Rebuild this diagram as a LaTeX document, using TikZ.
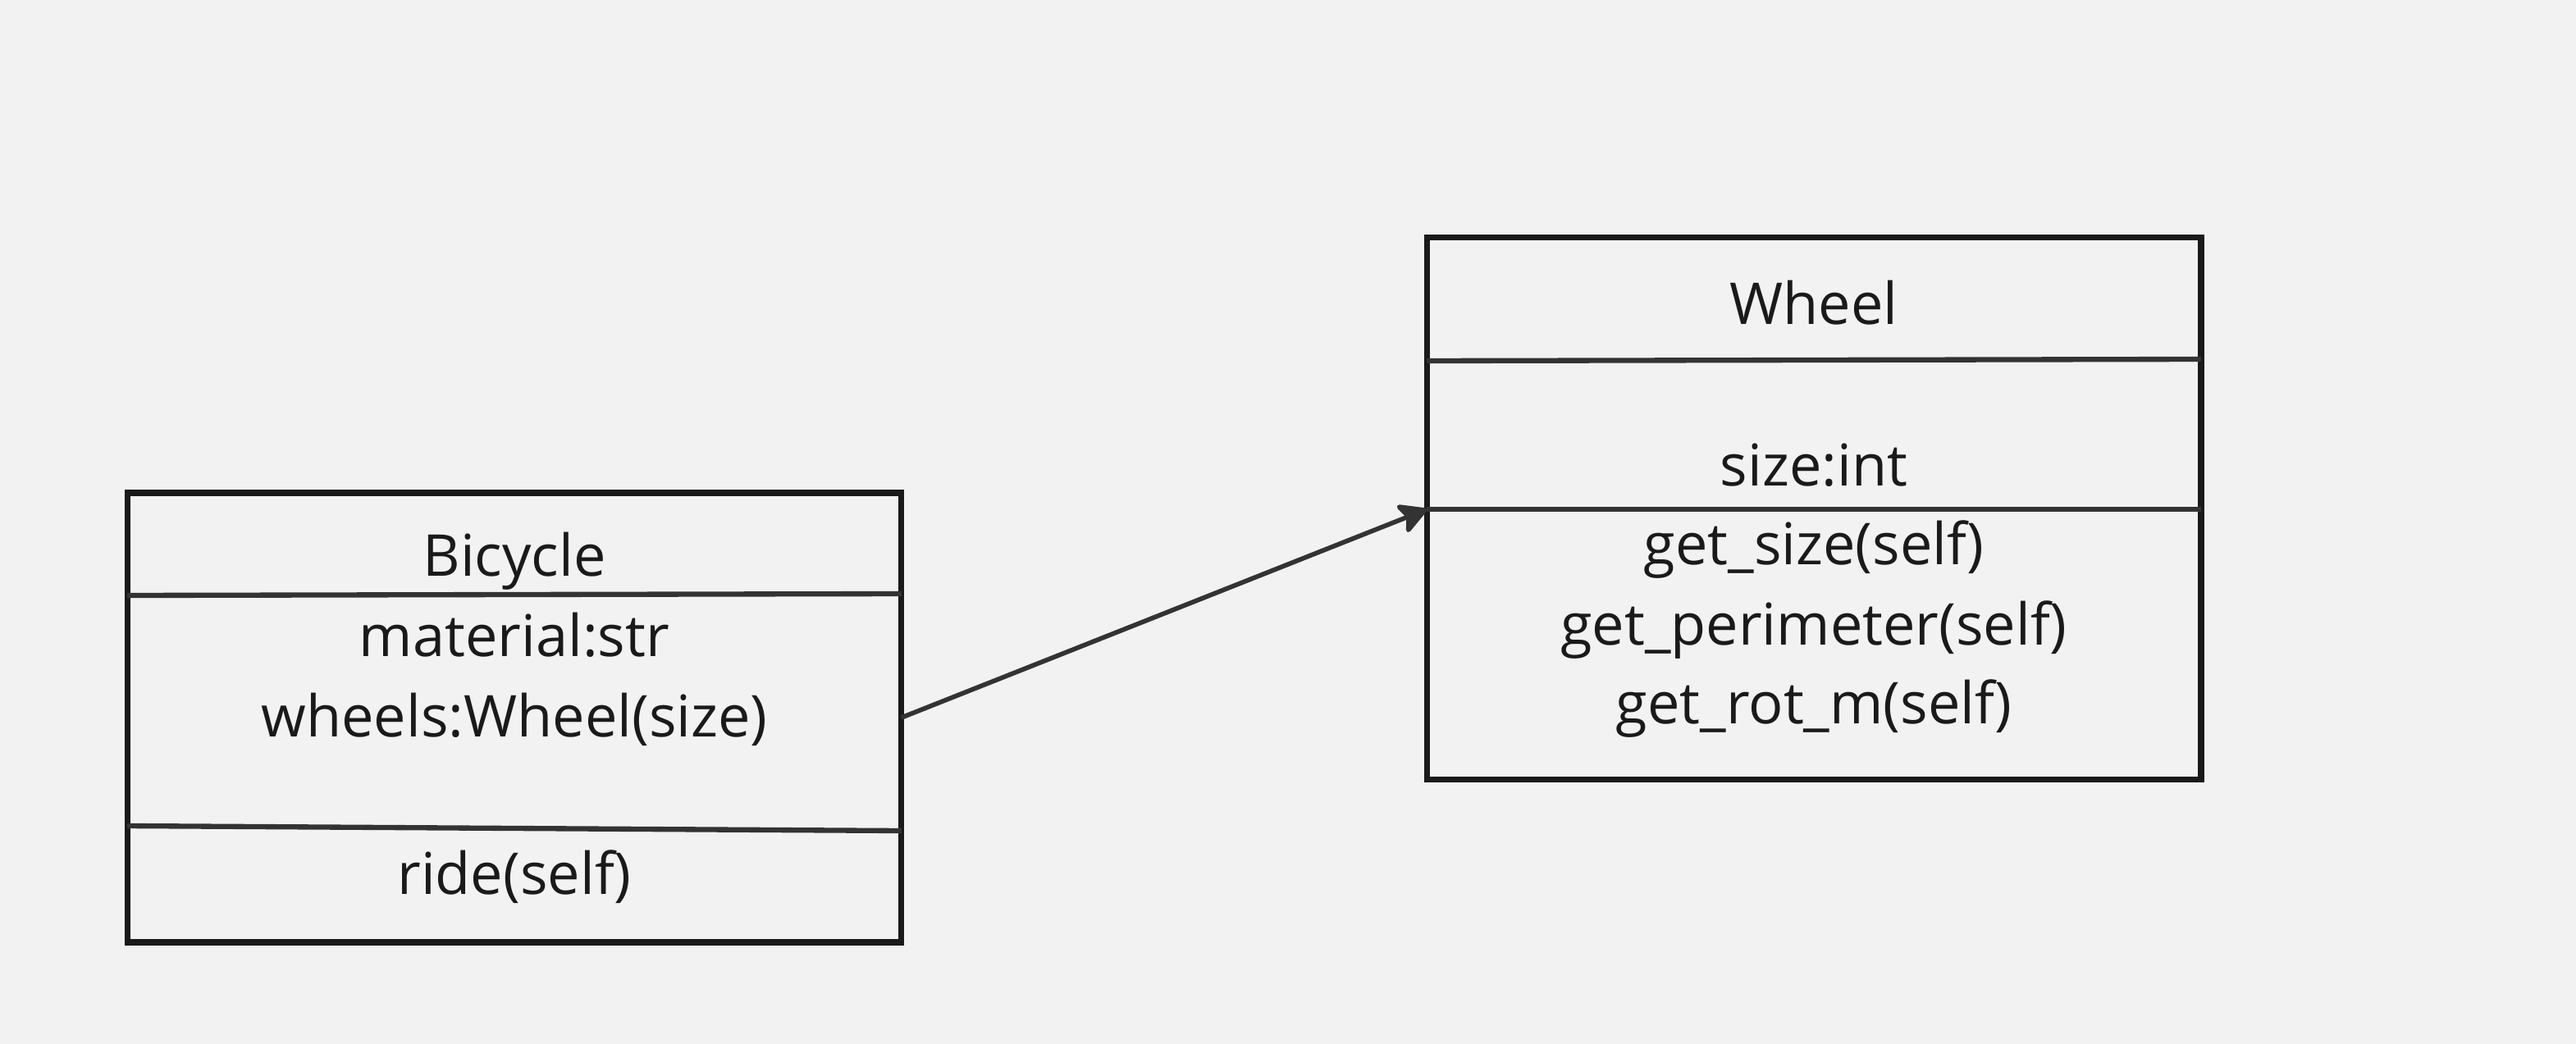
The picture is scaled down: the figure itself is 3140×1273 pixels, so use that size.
\documentclass[tikz,border=0pt]{standalone}
\usepackage{fontspec}
\setmainfont{Open Sans}
\usepackage{tikz}
\usetikzlibrary{arrows.meta}
\usetikzlibrary{positioning}
\usepackage{xcolor}
\definecolor{bgcol}{HTML}{F2F2F2}
\definecolor{boxcol}{HTML}{1A1A1A}
\definecolor{linecol}{HTML}{333333}

\tikzset{
  classbox/.style={rectangle, draw=boxcol, line width=2.1pt, outer sep=0pt, minimum width=9.43cm},
  member/.style={font=\fontsize{20}{24}\selectfont, text=boxcol, inner sep=0pt, text height=0.72em, text depth=0pt},
  divider/.style={draw=linecol, line width=1.8pt},
  >={Stealth[length=11pt, width=12pt, inset=2.5pt, round]}
}

\begin{document}
\begin{tikzpicture}[x=0.01cm, y=-0.01cm]

    \fill[bgcol] (0,0) rectangle (3140,1273);
    \useasboundingbox (0,0) rectangle (3140,1273);

    % Define nodes
    \node[classbox, minimum height=5.48cm] (bicycle) at (627,875) {};
    \node[classbox, minimum height=6.61cm] (wheel) at (2211,620) {};

    \node[member] (bicycletitle) at (627,690) {Bicycle};
    \node[member] (material) at (627,788) {material:str};
    \node[member] (wheels) at (627,886) {wheels:Wheel(size)};
    \node[member] (ride) at (627,1078) {ride(self)};

    \node[member] (wheeltitle) at (2211,383) {Wheel};
    \node[member] (size) at (2211,580) {size:int};
    \node[member] (getsize) at (2211,676) {get\_size(self)};
    \node[member] (getperim) at (2211,774) {get\_perimeter(self)};
    \node[member] (getrot) at (2211,870) {get\_rot\_m(self)};

    % compartments
    \draw[divider] (bicycle.west |- 0,726) -- (bicycle.east |- 0,724);
    \draw[divider] (bicycle.west |- 0,1007) -- (bicycle.east |- 0,1013);
    \draw[divider] (wheel.west |- 0,440) -- (wheel.east |- 0,438);
    \draw[divider] (wheel.west |- 0,621) -- (wheel.east |- 0,621);
    \coordinate (wheelmethods) at (wheel.west |- 0,621);

    % Connect the nodes
    \draw[->, draw=linecol, fill=linecol, line width=1.6pt] (bicycle.east) -- (wheelmethods);

\end{tikzpicture}
\end{document}
